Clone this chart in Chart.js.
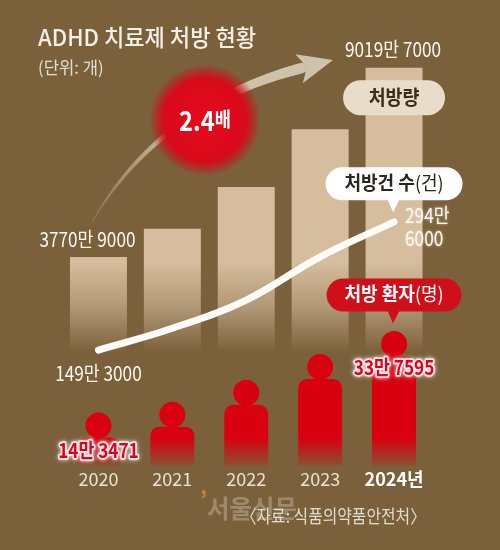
<!DOCTYPE html>
<html>
<head>
<meta charset="utf-8">
<script src="https://cdn.jsdelivr.net/npm/chart.js@4.4.1/dist/chart.umd.min.js"></script>
<style>
  html, body { margin: 0; padding: 0; background: #7b613b; }
  #wrap { width: 500px; height: 550px; }
</style>
</head>
<body>
<div id="wrap"><canvas id="c" width="500" height="550"></canvas></div>
<script>
// 연도
const years = ["2020", "2021", "2022", "2023", "2024년"];
// 처방량 (개)
const rxAmount = [37709000, 45500000, 57100000, 73100000, 90197000];
// 처방건 수 (건)
const rxCount = [1493000, 1740000, 2060000, 2550000, 2946000];
// 처방 환자 (명)
const patients = [143471, 169500, 221600, 283200, 337595];

const BG = "#7b613b";
const RED = "#d9000f";
const FONT = '"Noto Sans CJK KR", "Noto Sans", sans-serif';

// 3770만 9000 형태
function fmt(v) {
  const man = Math.floor(v / 10000);
  const rest = v % 10000;
  return rest ? man + "만 " + rest : man + "만";
}

function drawText(c, str, x, y, o) {
  c.save();
  c.font = (o.weight || "400") + " " + o.size + "px " + FONT;
  c.textBaseline = "middle";
  c.textAlign = o.align || "left";
  c.translate(x, y);
  c.scale(o.sx || 0.86, 1);
  if (o.shadow) {
    c.shadowColor = o.shadow;
    c.shadowBlur = o.blur || 4;
  }
  if (o.stroke) {
    c.lineJoin = "round";
    c.lineWidth = o.strokeWidth || 3;
    c.strokeStyle = o.stroke;
    c.strokeText(str, 0, 0);
  }
  c.fillStyle = o.color;
  c.fillText(str, 0, 0);
  c.restore();
}

// 여러 굵기가 섞인 텍스트를 가운데 정렬
function drawParts(c, parts, cx, cy, color, sx) {
  let total = 0;
  parts.forEach(p => {
    c.font = p.weight + " " + p.size + "px " + FONT;
    p.w = c.measureText(p.t).width * sx;
    total += p.w;
  });
  let x = cx - total / 2;
  parts.forEach(p => {
    drawText(c, p.t, x, cy + (p.dy || 0), { size: p.size, weight: p.weight, color: color, sx: sx });
    x += p.w;
  });
}

function pill(c, cx, cy, w, h, fill, pointer) {
  const r = h / 2;
  c.save();
  c.fillStyle = fill;
  c.beginPath();
  c.roundRect(cx - w / 2, cy - h / 2, w, h, r);
  c.fill();
  if (pointer) {
    c.beginPath();
    c.moveTo(cx - 7, cy + h / 2 - 2);
    c.lineTo(cx + 6, cy + h / 2 - 2);
    c.lineTo(cx - 1, cy + h / 2 + 12);
    c.closePath();
    c.fill();
  }
  c.restore();
}

function drawArrow(c) {
  const p0 = { x: 92, y: 222 }, cp = { x: 160, y: 105 }, p2 = { x: 302, y: 68 };
  const at = t => ({
    x: (1 - t) * (1 - t) * p0.x + 2 * t * (1 - t) * cp.x + t * t * p2.x,
    y: (1 - t) * (1 - t) * p0.y + 2 * t * (1 - t) * cp.y + t * t * p2.y
  });
  c.save();
  c.lineCap = "round";
  const N = 90;
  for (let i = 0; i < N; i++) {
    const t0 = i / N, t1 = (i + 1) / N;
    const a = at(t0), b = at(t1);
    c.lineWidth = 1.5 + 9 * t0;
    c.strokeStyle = "rgba(206,194,171," + (0.12 + 0.88 * t0) + ")";
    c.beginPath();
    c.moveTo(a.x, a.y);
    c.lineTo(b.x, b.y);
    c.stroke();
  }
  let dx = p2.x - cp.x, dy = p2.y - cp.y;
  const len = Math.hypot(dx, dy);
  dx /= len; dy /= len;
  const nx = -dy, ny = dx;
  c.fillStyle = "rgb(206,194,171)";
  c.beginPath();
  c.moveTo(p2.x + dx * 32, p2.y + dy * 32);
  c.lineTo(p2.x + nx * 15 - dx * 3, p2.y + ny * 15 - dy * 3);
  c.lineTo(p2.x + dx * 5, p2.y + dy * 5);
  c.lineTo(p2.x - nx * 15 - dx * 3, p2.y - ny * 15 - dy * 3);
  c.closePath();
  c.fill();
  c.restore();
}

function drawGlow(c, x, y) {
  const g = c.createRadialGradient(x, y, 0, x, y, 56);
  g.addColorStop(0, "#e60a1c");
  g.addColorStop(0.74, "#d80a1a");
  g.addColorStop(0.86, "rgba(205,15,25,0.6)");
  g.addColorStop(1, "rgba(190,20,25,0)");
  c.save();
  c.fillStyle = g;
  c.beginPath();
  c.arc(x, y, 56, 0, Math.PI * 2);
  c.fill();
  c.restore();
}

const decor = {
  id: "decor",
  beforeDraw(chart) {
    const c = chart.ctx;
    c.save();
    c.fillStyle = BG;
    c.fillRect(0, 0, chart.width, chart.height);
    c.restore();
  },
  afterDatasetsDraw(chart) {
    // 환자 아이콘 머리
    const c = chart.ctx;
    c.save();
    c.fillStyle = RED;
    chart.getDatasetMeta(1).data.forEach(el => {
      c.beginPath();
      c.arc(el.x, el.y - 12, 13, 0, Math.PI * 2);
      c.fill();
    });
    c.restore();
  },
  afterDraw(chart) {
    const c = chart.ctx;
    const bars = chart.getDatasetMeta(0).data;
    const heads = chart.getDatasetMeta(1).data;
    const pts = chart.getDatasetMeta(2).data;
    const W = "#fbf8f2";

    // 제목
    drawText(c, "ADHD 치료제 처방 현황", 38, 37, { size: 23, weight: "500", color: "#f4efe6", sx: 0.96 });
    drawText(c, "(단위: 개)", 38, 68, { size: 17, color: "#e4ddd1", sx: 0.98 });

    // 증가 화살표와 배율
    drawArrow(c);
    drawGlow(c, 205, 120);
    const ratio = (rxAmount[rxAmount.length - 1] / rxAmount[0]).toFixed(1);
    drawParts(c, [
      { t: ratio, size: 27, weight: "700" },
      { t: "배", size: 20, weight: "700", dy: -2 }
    ], 205, 121, "#ffffff", 0.88);

    // 처방량
    const b0 = bars[0], b4 = bars[bars.length - 1];
    drawText(c, fmt(rxAmount[0]), b0.x - 11, b0.y - 18, { size: 20, color: W, align: "center" });
    drawText(c, fmt(rxAmount[4]), b4.x - 1, b4.y - 18, { size: 20, color: W, align: "center" });
    pill(c, b4.x, b4.y + 30, 102, 35, "#e9dccb", false);
    drawText(c, "처방량", b4.x, b4.y + 30, { size: 20, weight: "700", color: "#3b2d1c", align: "center", sx: 0.92 });

    // 처방건 수
    const p0 = pts[0], p4 = pts[pts.length - 1];
    drawText(c, fmt(rxCount[0]), p0.x, p0.y + 23, { size: 20, color: W, align: "center" });
    const last = rxCount[rxCount.length - 1];
    drawText(c, Math.floor(last / 10000) + "만", p4.x + 11, p4.y - 6, { size: 20, color: W, shadow: "rgba(255,245,225,0.7)", blur: 3 });
    drawText(c, String(last % 10000), p4.x + 11, p4.y + 17, { size: 20, color: W, shadow: "rgba(255,245,225,0.7)", blur: 3 });
    pill(c, p4.x, p4.y - 38, 137, 33, "#ffffff", true);
    drawParts(c, [
      { t: "처방건 수", size: 19, weight: "700" },
      { t: "(건)", size: 19, weight: "400" }
    ], p4.x, p4.y - 39, "#2a2522", 0.95);

    // 처방 환자
    const h0 = heads[0], h4 = heads[heads.length - 1];
    pill(c, h4.x, h4.y - 61, 135, 33, "#cf101b", true);
    drawParts(c, [
      { t: "처방 환자", size: 19, weight: "700" },
      { t: "(명)", size: 19, weight: "400" }
    ], h4.x, h4.y - 62, "#ffffff", 0.95);
    const redLabel = { size: 20, weight: "700", color: "#e4001c", align: "center", stroke: "rgba(255,235,235,0.95)", strokeWidth: 3.5, shadow: "rgba(255,255,255,0.8)", blur: 4 };
    drawText(c, fmt(patients[0]), h0.x, h0.y + 13, redLabel);
    drawText(c, fmt(patients[4]), h4.x, h4.y + 11, redLabel);

    // 출처
    drawText(c, "’", 200, 500, { size: 24, weight: "700", color: "#c7833a", sx: 0.9 });
    drawText(c, "서울신문", 207, 508, { size: 25, weight: "700", color: "rgba(168,152,126,0.75)", sx: 0.98 });
    drawText(c, "〈자료: 식품의약품안전처〉", 426, 516, { size: 18, color: "#e2dbcf", align: "right", sx: 0.88 });
  }
};

function barFill(ctx) {
  const c = ctx.chart.ctx;
  const g = c.createLinearGradient(0, 262, 0, 352);
  g.addColorStop(0, "rgba(213,189,157,1)");
  g.addColorStop(0.5, "rgba(213,189,157,0.6)");
  g.addColorStop(1, "rgba(213,189,157,0)");
  return g;
}

function personFill(ctx) {
  const c = ctx.chart.ctx;
  const g = c.createLinearGradient(0, 438, 0, 472);
  g.addColorStop(0, "rgba(217,0,15,1)");
  g.addColorStop(1, "rgba(217,0,15,0)");
  return g;
}

new Chart(document.getElementById("c"), {
  type: "bar",
  data: {
    labels: years,
    datasets: [
      {
        label: "처방량",
        data: rxAmount,
        yAxisID: "yAmount",
        backgroundColor: barFill,
        grouped: false,
        categoryPercentage: 1,
        barPercentage: 0.771,
        order: 3
      },
      {
        label: "처방 환자",
        data: patients,
        yAxisID: "yPatient",
        backgroundColor: personFill,
        grouped: false,
        categoryPercentage: 1,
        barPercentage: 0.595,
        borderRadius: { topLeft: 9, topRight: 9 },
        borderSkipped: "bottom",
        order: 2
      },
      {
        type: "line",
        label: "처방건 수",
        data: rxCount,
        yAxisID: "yCount",
        borderColor: "#fdfcf9",
        borderWidth: 7,
        borderCapStyle: "round",
        tension: 0.4,
        pointRadius: 0,
        fill: false,
        order: 1
      }
    ]
  },
  options: {
    responsive: false,
    animation: false,
    layout: { padding: { left: 61.5, right: 69, top: 20, bottom: 57 } },
    plugins: {
      legend: { display: false },
      tooltip: { enabled: false },
      title: { display: false }
    },
    scales: {
      x: {
        offset: true,
        grid: { display: false, drawTicks: false },
        border: { display: false },
        ticks: {
          padding: 3,
          color: ctx => (ctx.index === 4 ? "#ffffff" : "#e9e1d3"),
          font: ctx => ({ family: FONT, size: 18, weight: ctx.index === 4 ? "700" : "400" })
        }
      },
      yAmount: { display: false, min: -20136000, max: 103437000 },
      yCount: { display: false, min: 187000, max: 5232000 },
      yPatient: { display: false, min: 77200, max: 1137800 }
    }
  },
  plugins: [decor]
});
</script>
</body>
</html>
